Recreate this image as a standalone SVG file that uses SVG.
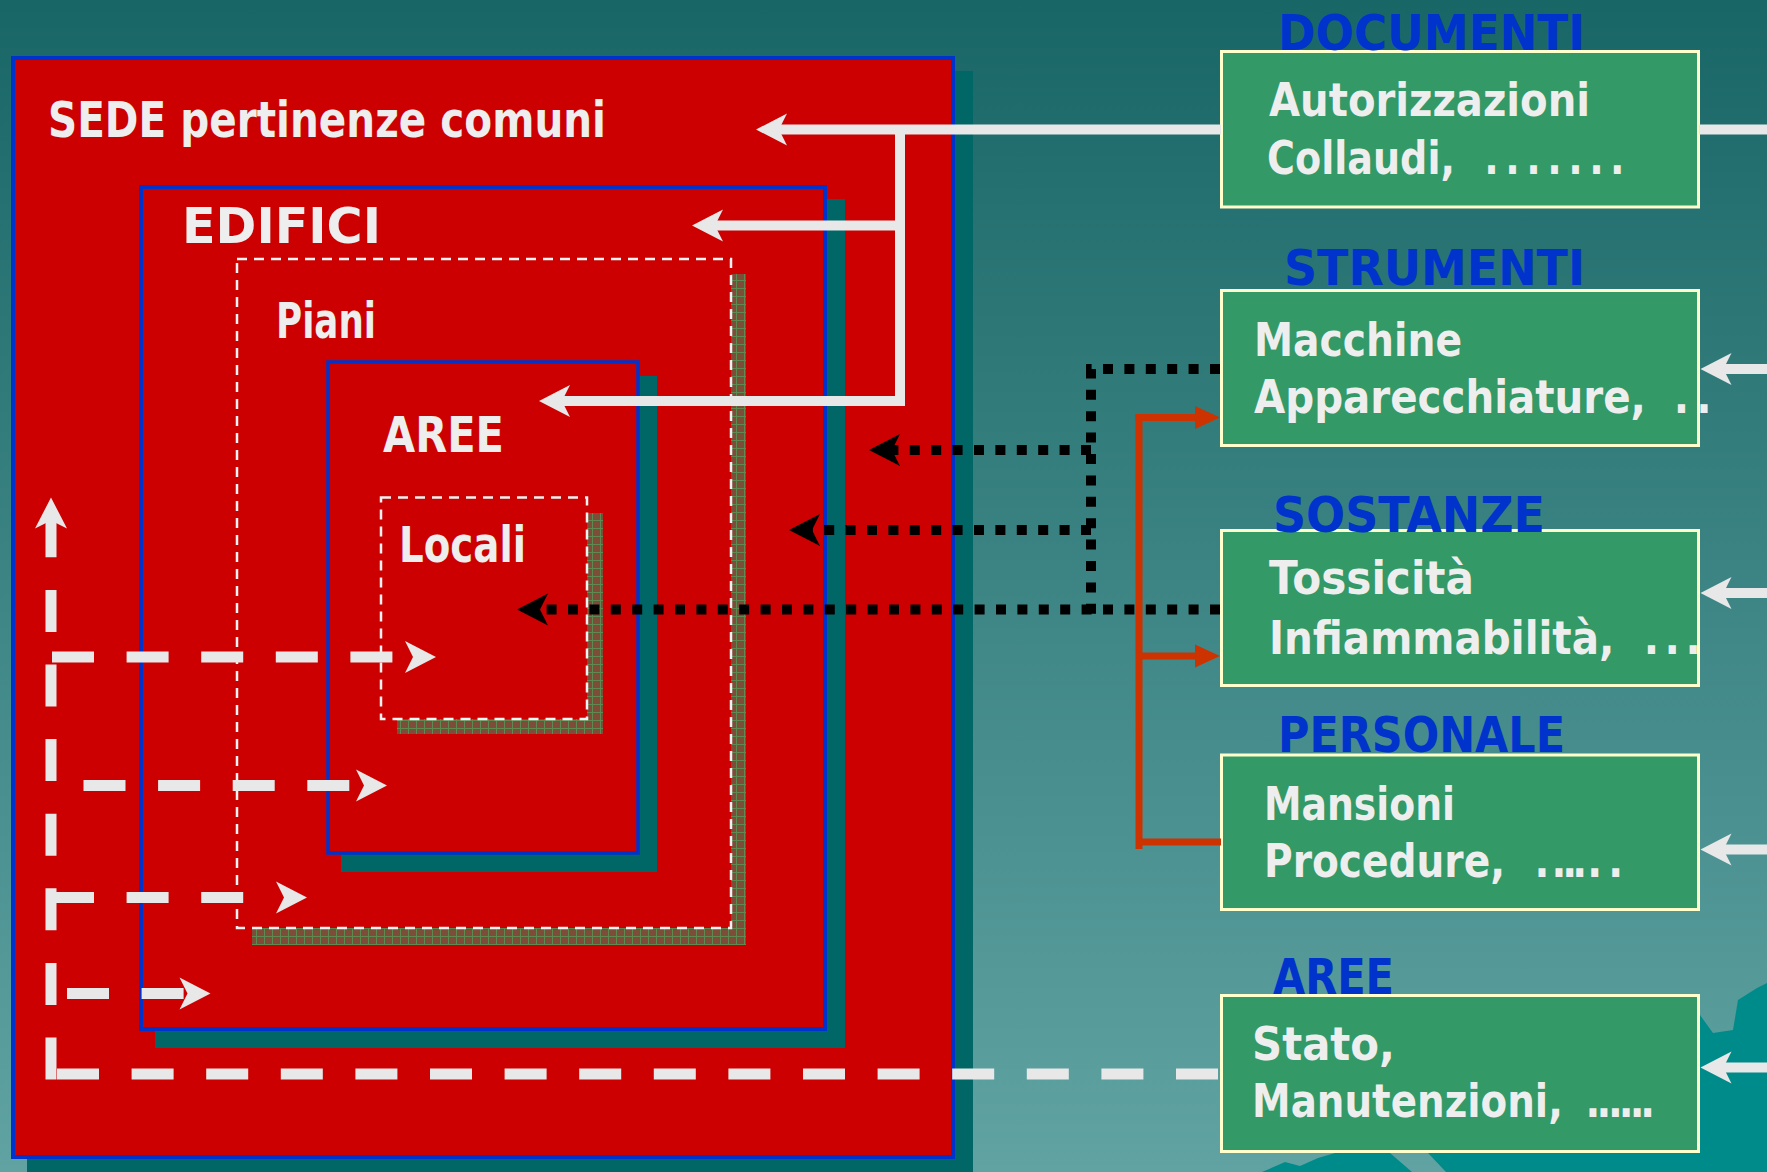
<svg xmlns="http://www.w3.org/2000/svg" width="1767" height="1172" viewBox="0 0 1767 1172">
  <defs>
    <linearGradient id="bg" x1="0" y1="0" x2="0" y2="1">
      <stop offset="0" stop-color="#196666"/>
      <stop offset="1" stop-color="#61a3a3"/>
    </linearGradient>
    <!-- brown hatched shadow used under the dashed frames -->
    <pattern id="grid" width="8" height="8" patternUnits="userSpaceOnUse">
      <rect width="8" height="8" fill="#7e4d3a"/>
      <path d="M0 0.5 H8 M0.5 0 V8" stroke="#5c8a50" stroke-width="1" fill="none"/>
    </pattern>
    <!-- barbed arrowhead, tip at origin, body along +x -->
    <path id="head" d="M0 0 L31 -16 L23 0 L31 16 Z"/>
    <!-- plain triangular arrowhead, tip at origin, pointing +x -->
    <path id="headR" d="M0 0 L-25 -11.5 L-25 11.5 Z"/>
    <style>
      .t { font-family: "DejaVu Sans", "Noto Sans", sans-serif; font-weight: 700; }
      .lbl { fill: #eeeeee; font-size: 50px; }
      .hd { fill: #0033cc; font-size: 49px; }
      .bx { fill: #eeeeee; font-size: 47px; }
      .red { fill: #cc0000; }
      .blueb { stroke: #0033cc; stroke-width: 4; }
      .shadow { fill: #006666; }
      .dframe { fill: #cc0000; stroke: #f2f2f2; stroke-width: 2.5; stroke-dasharray: 10 7; }
      .card { fill: #339966; stroke: #ffffcc; stroke-width: 3; }
      .wline { fill: none; stroke: #e8e8e8; stroke-width: 10; }
      .wdash { fill: none; stroke: #e8e8e8; stroke-width: 11; stroke-dasharray: 42 32.6; }
      .kdot { fill: none; stroke: #000000; stroke-width: 10; stroke-dasharray: 10 11.4; }
      .rline { fill: none; stroke: #cc3300; stroke-width: 7; }
      .wh { fill: #e8e8e8; }
      .kh { fill: #000000; }
      .rh { fill: #cc3300; }
    </style>
  </defs>

  <!-- background -->
  <rect width="1767" height="1172" fill="url(#bg)"/>
  <g id="landscape" fill="#008b8b">
    <polygon points="1700,1015 1713,1033 1733,1030 1738,1000 1757,988 1767,983 1767,1172 1700,1172"/>
    <polygon points="1262,1172 1285,1162 1300,1166 1318,1158 1335,1153 1390,1153 1412,1172"/>
    <polygon points="1428,1153 1700,1153 1700,1172 1446,1172"/>
  </g>

  <!-- nested location frames -->
  <g id="sede">
    <rect class="shadow" x="27" y="71" width="946" height="1110"/>
    <rect class="red blueb" x="13" y="58" width="940" height="1099"/>
    <text class="t lbl" x="48" y="137" textLength="558" lengthAdjust="spacingAndGlyphs">SEDE pertinenze comuni</text>
  </g>
  <g id="edifici">
    <rect class="shadow" x="155" y="199" width="690" height="849"/>
    <rect class="red blueb" x="141" y="187" width="684" height="842"/>
    <text class="t lbl" x="182" y="243" textLength="199" lengthAdjust="spacingAndGlyphs">EDIFICI</text>
  </g>
  <g id="piani">
    <rect x="252" y="274" width="494" height="671" fill="url(#grid)"/>
    <rect class="dframe" x="237" y="259" width="494" height="669"/>
    <text class="t lbl" x="276" y="338" textLength="100" lengthAdjust="spacingAndGlyphs">Piani</text>
  </g>
  <g id="aree">
    <rect class="shadow" x="341" y="376" width="316" height="496"/>
    <rect class="red" x="328" y="362" width="310" height="491" stroke="#0033cc" stroke-width="3.5"/>
    <text class="t lbl" x="383" y="452" textLength="121" lengthAdjust="spacingAndGlyphs">AREE</text>
  </g>
  <g id="locali">
    <rect x="397" y="513" width="206" height="221" fill="url(#grid)"/>
    <rect class="dframe" x="381" y="497.5" width="206" height="221.5"/>
    <text class="t lbl" x="399" y="562" textLength="127" lengthAdjust="spacingAndGlyphs">Locali</text>
  </g>

  <!-- information cards -->
  <g id="documenti">
    <rect class="card" x="1221.5" y="51.5" width="477" height="155.5"/>
    <text class="t hd" x="1278" y="50" textLength="307" lengthAdjust="spacingAndGlyphs">DOCUMENTI</text>
    <text class="t bx" x="1269" y="115.6" textLength="321" lengthAdjust="spacingAndGlyphs">Autorizzazioni</text>
    <text class="t bx" transform="translate(1267 174) scale(0.811 1)" dx="0 0 0 0 0 0 0 0 0 0 19.9 8 8 8 8 8 8">Collaudi, .......</text>
  </g>
  <g id="strumenti">
    <rect class="card" x="1221.5" y="290.5" width="477" height="155"/>
    <text class="t hd" x="1284" y="285" textLength="301" lengthAdjust="spacingAndGlyphs">STRUMENTI</text>
    <text class="t bx" x="1254" y="356" textLength="208" lengthAdjust="spacingAndGlyphs">Macchine</text>
    <text class="t bx" transform="translate(1254 412.5) scale(0.859 1)" dx="0 0 0 0 0 0 0 0 0 0 0 0 0 0 0 0 0 16.1 8.3">Apparecchiature, ..</text>
  </g>
  <g id="sostanze">
    <rect class="card" x="1221.5" y="530.5" width="477" height="155"/>
    <text class="t hd" x="1273" y="532" textLength="272" lengthAdjust="spacingAndGlyphs">SOSTANZE</text>
    <text class="t bx" x="1269" y="594" textLength="205" lengthAdjust="spacingAndGlyphs">Tossicità</text>
    <text class="t bx" transform="translate(1269 654) scale(0.861 1)" dx="0 0 0 0 0 0 0 0 0 0 0 0 0 0 0 0 17.6 6.5 6.5">Infiammabilità, ...</text>
  </g>
  <g id="personale">
    <rect class="card" x="1221.5" y="755" width="477" height="154.5"/>
    <text class="t hd" x="1278" y="752" textLength="287" lengthAdjust="spacingAndGlyphs">PERSONALE</text>
    <text class="t bx" x="1264" y="820" textLength="191" lengthAdjust="spacingAndGlyphs">Mansioni</text>
    <text class="t bx" transform="translate(1264 876.5) scale(0.832 1)" dx="0 0 0 0 0 0 0 0 0 0 0 19 2.6 -4.7 -5.9 0.1 7.4">Procedure, ......</text>
  </g>
  <g id="aree-stato">
    <rect class="card" x="1221.5" y="995.5" width="477" height="156"/>
    <text class="t hd" x="1273" y="993.5" textLength="121" lengthAdjust="spacingAndGlyphs">AREE</text>
    <text class="t bx" x="1252" y="1060" textLength="143" lengthAdjust="spacingAndGlyphs">Stato,</text>
    <text class="t bx" transform="translate(1252 1116.5) scale(0.826 1)" dx="0 0 0 0 0 0 0 0 0 0 0 0 0 0 10.9 -4.5 -4 -4.6 -4.6 -5.2">Manutenzioni, ......</text>
  </g>

  <!-- connectors -->
  <g id="connectors">
    <!-- documents feed every level of the site -->
    <path class="wline" d="M1221 129.5 H778"/>
    <path class="wline" d="M900 129.5 V401 H561"/>
    <path class="wline" d="M900 225.6 H714"/>
    <path class="wline" d="M1699 129.5 H1767"/>
    <use href="#head" class="wh" transform="translate(756 129.5)"/>
    <use href="#head" class="wh" transform="translate(692 225.6)"/>
    <use href="#head" class="wh" transform="translate(539 401)"/>

    <!-- incoming arrows on the right edge -->
    <path class="wline" d="M1767 369 H1722"/>
    <path class="wline" d="M1767 593 H1722"/>
    <path class="wline" d="M1767 849.5 H1722"/>
    <path class="wline" d="M1767 1067.6 H1722"/>
    <use href="#head" class="wh" transform="translate(1700.5 369)"/>
    <use href="#head" class="wh" transform="translate(1700.5 593)"/>
    <use href="#head" class="wh" transform="translate(1700.5 849.5)"/>
    <use href="#head" class="wh" transform="translate(1700.5 1067.6)"/>

    <!-- dotted links from instruments and substances -->
    <path class="kdot" d="M1220 369 H1091 V614"/>
    <path class="kdot" d="M1091 450 H892"/>
    <path class="kdot" d="M1091 530 H812"/>
    <path class="kdot" d="M1220 609.5 H540"/>
    <use href="#head" class="kh" transform="translate(869 450)"/>
    <use href="#head" class="kh" transform="translate(789 530)"/>
    <use href="#head" class="kh" transform="translate(517 609.5)"/>

    <!-- personnel links -->
    <path class="rline" d="M1139 849 V414"/>
    <path class="rline" d="M1135.5 417.5 H1197"/>
    <path class="rline" d="M1139 656 H1197"/>
    <path class="rline" d="M1139 842 H1221"/>
    <use href="#headR" class="rh" transform="translate(1220 417.5)"/>
    <use href="#headR" class="rh" transform="translate(1220 656)"/>

    <!-- dashed feed from the area card into each level -->
    <path class="wdash" d="M57 1074 H1221"/>
    <path class="wdash" d="M51 1079.5 V510"/>
    <use href="#head" class="wh" transform="translate(51 497.5) rotate(90)"/>
    <path class="wdash" d="M52 657 H395"/>
    <use href="#head" class="wh" transform="translate(436 657) rotate(180)"/>
    <path class="wdash" d="M83.5 785.6 H351"/>
    <use href="#head" class="wh" transform="translate(387 785.6) rotate(180)"/>
    <path class="wdash" d="M52 897.5 H245"/>
    <use href="#head" class="wh" transform="translate(307 897.5) rotate(180)"/>
    <path class="wdash" d="M67 993.5 H185"/>
    <use href="#head" class="wh" transform="translate(210.5 993.5) rotate(180)"/>
  </g>
</svg>
